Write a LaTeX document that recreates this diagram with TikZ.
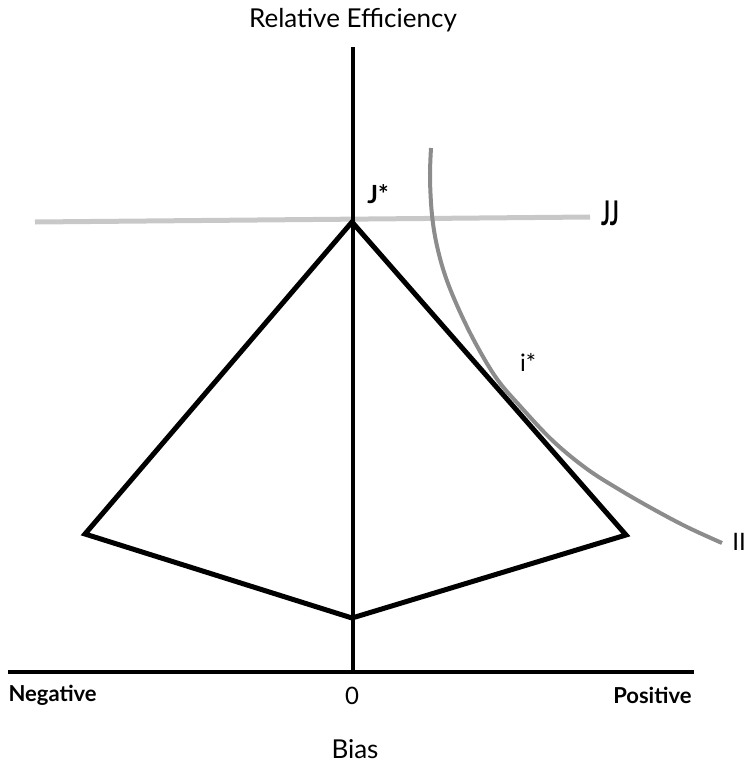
\documentclass[tikz,border=0pt]{standalone}
\usepackage{fontspec}
\setmainfont{Lato}
\begin{document}
\begin{tikzpicture}[x=1pt,y=-1pt,
  axisline/.style={line width=4pt,black},
  polyline/.style={line width=5pt,black,line join=miter},
  jjline/.style={line width=5pt,color={rgb,255:red,200;green,200;blue,200}},
  iiline/.style={line width=4pt,color={rgb,255:red,140;green,140;blue,140}},
  bigtext/.style={font=\fontsize{26}{30}\selectfont},
  boldlab/.style={font=\fontsize{22}{26}\selectfont\bfseries},
  midtext/.style={font=\fontsize{24}{28}\selectfont}]
\useasboundingbox (0,0) rectangle (746,766);
% coordinates
\coordinate (vtop) at (353,47);
\coordinate (vbot) at (353,672);
\coordinate (hl) at (8,672);
\coordinate (hr) at (694,672);
\coordinate (apex) at (352,222);
\coordinate (rv) at (626,535);
\coordinate (bv) at (352,618);
\coordinate (lv) at (85,534);
\coordinate (jjl) at (35,222);
\coordinate (jjr) at (590,217);
% JJ line
\draw[jjline] (jjl) -- (jjr);
% axes
\draw[line width=3.5pt] (vtop) -- (vbot);
\draw[axisline] (hl) -- (hr);
% polygon
\draw[polyline] (apex) -- (rv) -- (bv) -- (lv) -- cycle;
% II curve
\draw[iiline] plot[smooth,tension=0.6] coordinates {(431,148) (430,178) (432,215) (437,246) (446,278) (460,312) (477,346) (497,379) (520,406) (553,441) (587,469) (620,490) (653,509) (687,527) (722,543)};
% labels
\node[bigtext] (ylab) at (353,20) {Relative Efficiency};
\node[bigtext] (xlab) at (355,749) {Bias};
\node[boldlab,anchor=west] (neg) at (5,695) {Negative};
\node[boldlab,anchor=east] (pos) at (695,695) {Positive};
\node[midtext] (zero) at (352,696) {0};
\node[font=\fontsize{25}{29}\selectfont\bfseries] (jstar) at (378,194) {J*};
\node[font=\fontsize{34}{38}\selectfont\bfseries] (jj) at (610,213) {\scalebox{0.62}[1]{JJ}};
\node[midtext] (istar) at (528,362) {i*};
\node[midtext] (ii) at (739,542) {II};
\end{tikzpicture}
\end{document}
